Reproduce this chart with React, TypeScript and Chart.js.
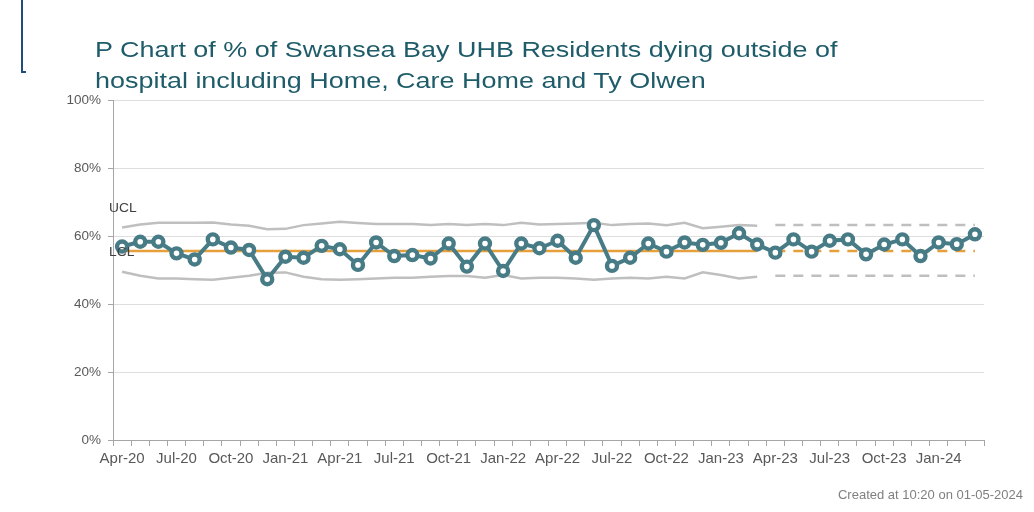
import React, { useEffect, useRef } from "react";
import { Chart, registerables } from "chart.js";

Chart.register(...registerables);

const months = [
  "Apr-20","May-20","Jun-20","Jul-20","Aug-20","Sep-20","Oct-20","Nov-20","Dec-20","Jan-21","Feb-21","Mar-21",
  "Apr-21","May-21","Jun-21","Jul-21","Aug-21","Sep-21","Oct-21","Nov-21","Dec-21","Jan-22","Feb-22","Mar-22",
  "Apr-22","May-22","Jun-22","Jul-22","Aug-22","Sep-22","Oct-22","Nov-22","Dec-22","Jan-23","Feb-23","Mar-23",
  "Apr-23","May-23","Jun-23","Jul-23","Aug-23","Sep-23","Oct-23","Nov-23","Dec-23","Jan-24","Feb-24","Mar-24",
];

const pctOutside = [
  56.9, 58.3, 58.3, 54.9, 53.1, 59.0, 56.6, 55.9, 47.3, 53.9, 53.6, 57.1,
  56.1, 51.5, 58.1, 54.1, 54.4, 53.4, 57.8, 51.0, 57.8, 49.7, 57.8, 56.4,
  58.6, 53.6, 63.2, 51.2, 53.6, 57.8, 55.4, 58.1, 57.4, 58.0, 60.8, 57.5,
  55.1, 59.0, 55.4, 58.6, 59.0, 54.6, 57.5, 59.0, 54.1, 58.1, 57.6, 60.5,
];

// control limits over the baseline period (Apr-20 .. Mar-23)
const uclBaseline = [
  62.5, 63.4, 63.9, 63.9, 63.9, 64.0, 63.4, 63.0, 62.0, 62.1, 63.2, 63.7,
  64.2, 63.8, 63.5, 63.5, 63.5, 63.2, 63.5, 63.2, 63.5, 63.2, 63.9, 63.4,
  63.5, 63.7, 63.9, 63.2, 63.5, 63.7, 63.2, 63.9, 62.3, 62.7, 63.2, 63.0,
];
const lclBaseline = [
  49.5, 48.3, 47.5, 47.5, 47.3, 47.1, 47.7, 48.3, 49.2, 49.3, 48.0, 47.3,
  47.1, 47.3, 47.5, 47.7, 47.7, 48.0, 48.2, 48.2, 47.7, 48.5, 47.5, 47.7,
  47.7, 47.5, 47.1, 47.5, 47.7, 47.5, 48.0, 47.5, 49.3, 48.5, 47.5, 48.0,
];
const centreLine = 55.6;
const uclProjected = 63.2;
const lclProjected = 48.3;
const baselineLength = 36;

const yTicks = [0, 20, 40, 60, 80, 100];

export default function App() {
  const ref = useRef<HTMLCanvasElement | null>(null);

  useEffect(() => {
    if (!ref.current) return;
    const solid = (arr: number[]) => months.map((_, i) => (i < baselineLength ? arr[i] : null));
    const proj = (v: number) => months.map((_, i) => (i >= baselineLength ? v : null));
    const meanSolid = months.map((_, i) => (i < baselineLength ? centreLine : null));
    const meanProj = proj(centreLine);

    const grey = "#bfbfbf";
    const orange = "#e5a03b";
    const teal = "#477b86";

    const chart = new Chart(ref.current, {
      type: "line",
      data: {
        labels: months,
        datasets: [
          {
            label: "% outside hospital",
            data: pctOutside,
            borderColor: teal,
            borderWidth: 4,
            pointRadius: 5,
            pointBorderWidth: 4.4,
            pointBackgroundColor: "#ffffff",
            pointBorderColor: teal,
            tension: 0,
          },
          { label: "Mean", data: meanSolid, borderColor: orange, borderWidth: 2.5, pointRadius: 0 },
          { label: "Mean proj", data: meanProj, borderColor: orange, borderWidth: 2.5, pointRadius: 0, borderDash: [10, 8] },
          { label: "UCL", data: solid(uclBaseline), borderColor: grey, borderWidth: 2.5, pointRadius: 0 },
          { label: "LCL", data: solid(lclBaseline), borderColor: grey, borderWidth: 2.5, pointRadius: 0 },
          { label: "UCL proj", data: proj(uclProjected), borderColor: grey, borderWidth: 2.5, pointRadius: 0, borderDash: [10, 8] },
          { label: "LCL proj", data: proj(lclProjected), borderColor: grey, borderWidth: 2.5, pointRadius: 0, borderDash: [10, 8] },
        ],
      },
      options: {
        animation: false,
        responsive: false,
        devicePixelRatio: 1,
        layout: { padding: { top: 100, right: 50, bottom: 32, left: 0 } },
        plugins: { legend: { display: false }, tooltip: { enabled: false }, title: { display: false } },
        scales: {
          x: {
            type: "category",
            offset: true,
            afterFit: (s: any) => { s.height = 40; },
            grid: { drawOnChartArea: false, offset: true, tickLength: 6, tickColor: "#a6a6a6" },
            border: { color: "#a6a6a6", width: 1 },
            ticks: {
              autoSkip: false,
              maxRotation: 0,
              minRotation: 0,
              padding: 4,
              color: "#595959",
              font: { family: "'Liberation Sans', Arial, sans-serif", size: 15 },
              callback: (_v: any, i: number) => (i % 3 === 0 ? months[i] : ""),
            },
          },
          y: {
            min: 0,
            max: 100,
            afterFit: (s: any) => { s.width = 113; },
            afterBuildTicks: (s: any) => { s.ticks = yTicks.map((v) => ({ value: v })); },
            grid: { color: "#dedede", tickLength: 5, tickColor: "#a6a6a6" },
            border: { color: "#a6a6a6", width: 1 },
            ticks: {
              padding: 7,
              color: "#595959",
              font: { family: "'Liberation Sans', Arial, sans-serif", size: 13.5 },
              callback: (v: any) => v + "%",
            },
          },
        },
      },
    });
    return () => chart.destroy();
  }, []);

  const sans = "'Liberation Sans', Arial, sans-serif";
  const titleStyle: React.CSSProperties = {
    position: "absolute",
    left: 95,
    fontFamily: sans,
    fontSize: 22,
    lineHeight: "22px",
    color: "#1f5c6a",
    whiteSpace: "nowrap",
    transform: "scaleX(1.225)",
    transformOrigin: "left center",
  };

  return (
    <div style={{ position: "absolute", left: 0, top: 0, width: 1034, height: 512, background: "#ffffff", overflow: "hidden" }}>
      <canvas ref={ref} width={1034} height={512} style={{ position: "absolute", left: 0, top: 0, width: 1034, height: 512 }} />
      <div style={{ position: "absolute", left: 21, top: 0, width: 2, height: 73, background: "#1f4e79" }} />
      <div style={{ position: "absolute", left: 21, top: 71, width: 5, height: 2, background: "#1f4e79" }} />
      <div style={{ ...titleStyle, top: 39 }}>P Chart of % of Swansea Bay UHB Residents dying outside of</div>
      <div style={{ ...titleStyle, top: 70 }}>hospital including Home, Care Home and Ty Olwen</div>
      <div style={{ position: "absolute", left: 109, top: 202, fontFamily: sans, fontSize: 12, lineHeight: "12px", color: "#404040", transform: "scaleX(1.15)", transformOrigin: "left center" }}>UCL</div>
      <div style={{ position: "absolute", left: 109, top: 246, fontFamily: sans, fontSize: 12, lineHeight: "12px", color: "#404040", transform: "scaleX(1.15)", transformOrigin: "left center" }}>LCL</div>
      <div style={{ position: "absolute", right: 11, top: 488, fontFamily: sans, fontSize: 13, lineHeight: "13px", color: "#808080", whiteSpace: "nowrap" }}>Created at 10:20 on 01-05-2024</div>
    </div>
  );
}
